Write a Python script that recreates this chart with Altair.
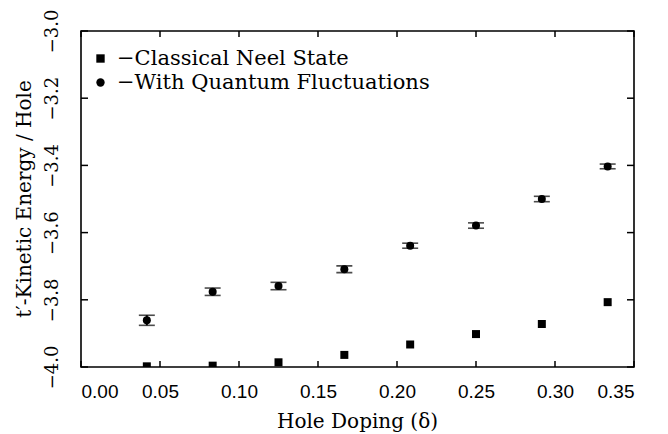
import altair as alt
import pandas as pd

# ---- data ----
doping = [1/24, 2/24, 3/24, 4/24, 5/24, 6/24, 7/24, 8/24]
quantum_energy = [-3.861, -3.776, -3.759, -3.709, -3.639, -3.579, -3.500, -3.403]
quantum_err = [0.015, 0.011, 0.011, 0.010, 0.0075, 0.008, 0.008, 0.007]
neel_energy = [-3.998, -3.996, -3.986, -3.964, -3.933, -3.902, -3.872, -3.807]

series_names = ["Classical Neel State", "With Quantum Fluctuations"]
x_ticks = [0.00, 0.05, 0.10, 0.15, 0.20, 0.25, 0.30, 0.35]
y_ticks = [-4.0, -3.8, -3.6, -3.4, -3.2, -3.0]
x_title = ["Hole Doping (δ)"]
y_title = ["t′-Kinetic Energy / Hole"]

W, H = 553, 336

rows = []
for x, y in zip(doping, neel_energy):
    rows.append({"x": x, "y": y, "lo": y, "hi": y, "series": series_names[0]})
for x, y, e in zip(doping, quantum_energy, quantum_err):
    rows.append({"x": x, "y": y, "lo": y - e, "hi": y + e, "series": series_names[1]})
df = pd.DataFrame(rows)
dq = df[df.series == series_names[1]]

xt = pd.DataFrame({"v": x_ticks})
yt = pd.DataFrame({"v": y_ticks})

xs = alt.Scale(domain=[0, 0.35], nice=False, zero=False)
ys = alt.Scale(domain=[-4.0, -3.0], nice=False, zero=False)

serif = "DejaVu Serif"
sans = "Liberation Sans"

xax = alt.Axis(values=x_ticks, format=".2f", title=None,
               tickSize=0, domain=False, grid=False, labelColor="black",
               labelFont=sans, labelFontSize=19, labelPadding=15)
yax = alt.Axis(values=y_ticks, format=".1f", title=None,
               tickSize=0, domain=False, grid=False, labelColor="black",
               labelFont=serif, labelFontSize=18, labelAngle=-90, labelAlign="center",
               labelBaseline="bottom", labelPadding=20, labelOverlap=False)

points = alt.Chart(df).mark_point(filled=True, opacity=1, clip=True, size=64).encode(
    x=alt.X("x:Q", scale=xs, axis=xax), y=alt.Y("y:Q", scale=ys, axis=yax),
    shape=alt.Shape("series:N", scale=alt.Scale(domain=series_names, range=["square", "circle"]),
                    legend=alt.Legend(
                        title=None, orient="none", legendX=9, legendY=17,
                        labelExpr="'−' + datum.label", labelFont=serif, labelFontSize=21,
                        labelColor="black", labelOffset=6, labelLimit=500, symbolSize=70,
                        symbolFillColor="black", symbolStrokeColor="black",
                        rowPadding=2, padding=0)),
    color=alt.value("black"),
)

xn = alt.X("x:Q", scale=xs, axis=xax)
bars = alt.Chart(dq).mark_rule(color="black", strokeWidth=2).encode(
    x=xn, y=alt.Y("lo:Q", scale=ys, axis=yax), y2="hi:Q")
cap_lo = alt.Chart(dq).mark_tick(color="black", orient="horizontal", size=16, thickness=1.6).encode(
    x=xn, y=alt.Y("lo:Q", scale=ys, axis=yax))
cap_hi = alt.Chart(dq).mark_tick(color="black", orient="horizontal", size=16, thickness=1.6).encode(
    x=xn, y=alt.Y("hi:Q", scale=ys, axis=yax))

tb = alt.Chart(xt).mark_rule(color="black", strokeWidth=1.5).encode(
    x=alt.X("v:Q", scale=xs, axis=xax), y=alt.value(H), y2=alt.value(H - 6))
tt = alt.Chart(xt).mark_rule(color="black", strokeWidth=1.5).encode(
    x=alt.X("v:Q", scale=xs, axis=xax), y=alt.value(0), y2=alt.value(6))
tl = alt.Chart(yt).mark_rule(color="black", strokeWidth=1.5).encode(
    y=alt.Y("v:Q", scale=ys, axis=yax), x=alt.value(0), x2=alt.value(7))
tr = alt.Chart(yt).mark_rule(color="black", strokeWidth=1.5).encode(
    y=alt.Y("v:Q", scale=ys, axis=yax), x=alt.value(W), x2=alt.value(W - 7))

# axis titles as text marks (centered on the plot, outside it)
xtitle = alt.Chart(pd.DataFrame({"t": x_title})).mark_text(
    font=serif, fontSize=20, color="black", align="center", baseline="middle"
).encode(text="t:N", x=alt.value(W / 2), y=alt.value(H + 55))
ytitle = alt.Chart(pd.DataFrame({"t": y_title})).mark_text(
    font=serif, fontSize=20, color="black", align="center", baseline="middle", angle=270
).encode(text="t:N", x=alt.value(-56), y=alt.value(H / 2))

chart = alt.layer(points, tb, tt, tl, tr, bars, cap_lo, cap_hi, xtitle, ytitle).properties(
    width=W, height=H, background="white",
    autosize=alt.AutoSizeParams(type="none"),
    padding={"left": 73, "top": 23, "right": 26, "bottom": 67},
).configure_view(stroke="black", strokeWidth=1.6)

chart.save("out.html", embed_options={"renderer": "svg", "actions": False})
